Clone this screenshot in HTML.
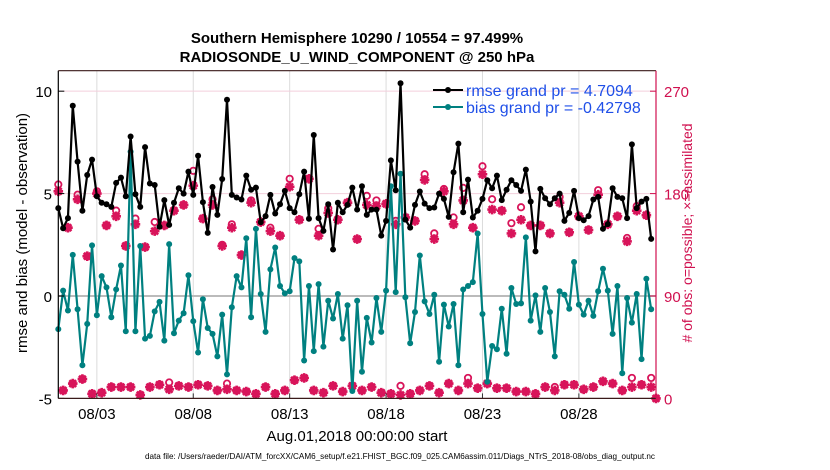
<!DOCTYPE html>
<html><head><meta charset="utf-8"><style>
html,body{margin:0;padding:0;background:#fff;}
svg{display:block;font-family:"Liberation Sans",Arial,sans-serif;}
</style></head><body>
<svg id="chart" width="830" height="470" viewBox="0 0 830 470">
<text x="357" y="43" text-anchor="middle" font-size="15" font-weight="bold">Southern Hemisphere 10290 / 10554 = 97.499%</text>
<text x="357" y="62" text-anchor="middle" font-size="15" font-weight="bold">RADIOSONDE_U_WIND_COMPONENT @ 250 hPa</text>
<g id="grid"></g>
<g id="marks"></g>
<g id="axes"></g>
<text transform="translate(27,233) rotate(-90)" text-anchor="middle" font-size="15">rmse and bias (model - observation)</text>
<text transform="translate(692,233) rotate(-90)" text-anchor="middle" font-size="14" fill="#d0104f"># of obs: o=possible; ×=assimilated</text>
<text x="357" y="441" text-anchor="middle" font-size="15">Aug.01,2018 00:00:00 start</text>
<text x="400" y="459" text-anchor="middle" font-size="8.4" textLength="510" lengthAdjust="spacingAndGlyphs">data file: /Users/raeder/DAI/ATM_forcXX/CAM6_setup/f.e21.FHIST_BGC.f09_025.CAM6assim.011/Diags_NTrS_2018-08/obs_diag_output.nc</text>
<g>
<line x1="433" y1="90" x2="463" y2="90" stroke="#000" stroke-width="2"/><circle cx="448" cy="90" r="3" fill="#000"/>
<line x1="433" y1="107" x2="463" y2="107" stroke="#008080" stroke-width="2"/><circle cx="448" cy="107" r="3" fill="#008080"/>
<text x="466" y="96" font-size="16" fill="#1f4fe8">rmse grand pr = 4.7094</text>
<text x="466" y="113" font-size="16" fill="#1f4fe8">bias grand pr = -0.42798</text>
</g>
</svg>
<script>
const xTickLabels = ["08/03","08/08","08/13","08/18","08/23","08/28"];
const xTickDays = [2,7,12,17,22,27];
const yTicks = [-5,0,5,10];
const rTicks = [0,90,180,270];
const rmse = [4.29,3.31,3.80,9.29,6.56,4.16,5.91,6.66,4.87,4.55,4.48,4.35,5.52,5.78,4.87,7.79,4.97,4.35,7.27,5.49,5.42,3.38,4.68,3.47,4.55,5.26,5.00,6.07,4.94,6.85,4.58,3.08,
5.32,3.96,5.71,9.58,4.94,4.81,4.71,5.88,5.19,5.29,3.60,3.90,4.94,4.03,4.48,5.13,4.29,4.09,4.97,6.07,3.77,7.86,3.80,3.18,4.48,2.27,4.55,4.09,4.45,5.29,4.22,
5.36,3.96,4.22,4.22,2.95,3.67,6.62,5.16,10.39,3.73,3.34,4.45,5.10,4.51,4.29,4.32,5.00,4.74,3.86,6.04,7.44,4.09,5.68,3.83,4.16,4.74,5.65,5.26,5.88,4.68,5.19,
5.65,5.42,5.13,6.17,4.61,2.18,5.23,4.77,4.48,4.77,5.00,3.67,4.06,5.13,3.80,3.70,3.90,4.71,4.84,3.28,3.51,5.26,4.84,4.77,3.80,7.40,4.29,4.61,4.74,2.79];
const bias = [-1.62,0.26,-0.71,2.01,-0.65,-3.38,-1.36,2.47,-0.94,0.97,0.42,-1.04,0.32,1.49,-1.72,7.05,-1.72,2.44,-2.08,-1.95,-0.75,-0.29,-2.18,2.53,-1.82,-1.20,-0.84,1.01,-1.23,-2.76,-0.16,-1.56,
-1.85,-2.95,-0.91,-3.83,-0.55,0.97,0.42,2.82,-1.04,3.28,0.10,-1.75,1.30,2.37,0.49,0.13,0.23,1.85,1.69,-3.15,0.49,-2.69,0.58,-2.47,-0.23,-1.10,0.10,-2.08,-0.45,-4.64,-0.23,
-3.70,-1.07,-2.27,-0.10,-1.75,0.26,5.36,0.19,5.97,-0.06,-2.31,-0.78,1.98,-0.26,-0.88,0.06,-3.21,-0.42,-1.49,-0.39,-3.38,0.32,0.49,0.68,3.05,-0.88,-4.19,-2.44,-2.60,-0.62,-2.82,
0.39,-0.39,-0.36,2.86,-1.20,0.03,-1.75,0.39,-0.78,-2.95,0.23,0.06,-0.62,1.66,-0.42,-0.91,-0.23,-0.97,0.23,1.33,0.26,-1.85,0.49,-3.77,-0.10,-1.30,0.10,-3.08,0.84,-0.65];
const assimilated = [182,7,150,13,175,17,125,4,180,5,152,10,160,10,134,10,153,3,133,10,147,12,152,8,165,11,170,10,187,12,158,11,
170,7,134,8,150,7,126,6,172,4,155,10,147,4,143,7,186,16,157,18,193,7,143,5,163,11,157,6,172,11,140,
7,170,10,169,5,171,4,153,3,159,4,156,7,192,11,140,5,182,13,153,7,174,13,150,9,197,13,166,9,165,9,
145,6,157,6,152,4,152,10,145,7,172,12,146,12,160,8,148,10,179,15,153,13,160,7,138,10,165,12,161,10,0];
const possible = [188,7,150,13,179,17,125,4,182,5,152,10,165,10,134,10,158,3,133,10,155,12,152,14,165,11,170,10,200,12,158,11,
175,7,135,13,153,7,126,6,174,4,155,10,150,4,143,7,193,16,157,18,193,7,149,5,167,11,157,6,172,11,140,
7,178,10,174,5,171,4,156,11,159,4,156,7,197,11,145,5,184,13,159,7,185,18,150,9,204,13,175,9,165,9,
154,6,168,6,152,4,152,10,145,10,177,12,146,12,160,8,148,10,183,15,153,13,160,7,141,18,169,12,161,18,0];

const NS='http://www.w3.org/2000/svg';
const X0=58.3,X1=656,Y0=398.4,Y1=70.7;
const sx=i=>X0+(X1-X0)*(i/4)/31;
const sxDay=d=>X0+(X1-X0)*d/31;
const sy=v=>Y0-(v+5)/16*(Y0-Y1);
const sr=c=>sy(c/18-5);
function mk(tag,attrs,parent){const e=document.createElementNS(NS,tag);for(const k in attrs)e.setAttribute(k,attrs[k]);parent.appendChild(e);return e;}
const grid=document.getElementById('grid'),marks=document.getElementById('marks'),axes=document.getElementById('axes');
xTickDays.forEach((d,k)=>{
  const l=mk('line',{x1:sxDay(d),x2:sxDay(d),y1:Y1,y2:Y0,stroke:'#dcdcdc','stroke-width':1},grid);
  
  
  const t=mk('line',{x1:sxDay(d),x2:sxDay(d),y1:Y0,y2:Y0-5,stroke:'#333'},axes);
  
  
  const tx=mk('text',{x:sxDay(d),y:419,'text-anchor':'middle','font-size':15},axes);
  tx.textContent=xTickLabels[k];
  
  
});
rTicks.forEach(c=>{
  if(c>0&&c!==90){const g=mk('line',{x1:X0,x2:X1,y1:sr(c),y2:sr(c),stroke:'#f3cfdc','stroke-width':1},grid);
  
  }
  const t=mk('line',{x1:X1,x2:X1-6,y1:sr(c),y2:sr(c),stroke:'#d0104f'},axes);
  
  
  const tx=mk('text',{x:664,y:sr(c)+6,'font-size':15,fill:'#d0104f'},axes);
  tx.textContent=c;
  
  
});
const zl=mk('line',{x1:X0,x2:X1,y1:sy(0),y2:sy(0),stroke:'#bbbbbb','stroke-width':2},grid);


yTicks.forEach(v=>{
  const t=mk('line',{x1:X0,x2:X0+6,y1:sy(v),y2:sy(v),stroke:'#000'},axes);
  
  
  const tx=mk('text',{x:52,y:sy(v)+6,'text-anchor':'end','font-size':15},axes);
  tx.textContent=v;
  
  
});
const fr=[['left-axis',X0,Y1,X0,Y0,'#000'],['bottom-axis',X0,Y0,X1,Y0,'#3a1a1a'],['top-axis',X0,Y1,X1,Y1,'#3a1a1a'],['right-axis',X1,Y1,X1,Y0,'#d0104f']];
fr.forEach(f=>{const l=mk('line',{x1:f[1],y1:f[2],x2:f[3],y2:f[4],stroke:f[5],'stroke-width':1.2},axes);
  
  });
possible.forEach((c,i)=>{
  const e=mk('circle',{cx:sx(i),cy:sr(c),r:3.2,fill:'none',stroke:'#d8145a','stroke-width':1.8},marks);
  
  
});
assimilated.forEach((c,i)=>{
  const x=sx(i),y=sr(c),r=4.8;
  const d=`M${x-r},${y}H${x+r}M${x},${y-r}V${y+r}M${x-3.4},${y-3.4}L${x+3.4},${y+3.4}M${x-3.4},${y+3.4}L${x+3.4},${y-3.4}`;
  const e=mk('path',{d:d,stroke:'#d8145a','stroke-width':2.6,fill:'none'},marks);
  
  
});
function series(vals,color,name){
  const p=mk('polyline',{points:vals.map((v,i)=>sx(i)+','+sy(v)).join(' '),fill:'none',stroke:color,'stroke-width':2.2,'stroke-linejoin':'round'},marks);
  
  
  vals.forEach((v,i)=>{const c=mk('circle',{cx:sx(i),cy:sy(v),r:3,fill:color},marks);
    
    });
}
series(bias,'#008080','bias');
series(rmse,'#000000','rmse');
</script>
</body></html>
